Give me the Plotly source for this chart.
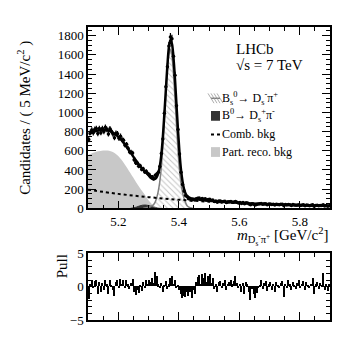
import numpy as np
import plotly.graph_objects as go

# 5 MeV bins from 5.10 to 5.90 GeV
mass = np.round(5.1025 + 0.005 * np.arange(160), 4)

data_counts = [
    717, 791, 816, 788, 825, 833, 780, 833, 789, 831,
    801, 846, 823, 776, 830, 803, 774, 736, 783, 778,
    730, 752, 716, 709, 659, 667, 627, 587, 586, 576,
    506, 475, 471, 440, 444, 406, 414, 380, 387, 363,
    353, 329, 329, 311, 345, 357, 376, 436, 572, 723,
    991, 1268, 1475, 1692, 1785, 1767, 1586, 1387, 1070, 821,
    566, 376, 250, 180, 135, 120, 101, 100, 86, 94,
    86, 101, 106, 107, 93, 104, 96, 101, 88, 93,
    96, 82, 86, 72, 77, 64, 76, 77, 66, 72,
    74, 61, 68, 70, 71, 64, 67, 72, 63, 56,
    61, 51, 60, 47, 58, 55, 46, 37, 47, 42,
    36, 41, 45, 47, 52, 42, 47, 49, 38, 45,
    46, 39, 44, 35, 44, 41, 37, 42, 43, 28,
    39, 36, 41, 38, 31, 39, 35, 32, 36, 38,
    31, 34, 37, 28, 34, 32, 28, 32, 37, 23,
    31, 33, 26, 31, 29, 37, 24, 29, 22, 28,
]

fit_counts = [
    770, 780, 788, 796, 802, 807, 811, 813, 815, 817,
    818, 817, 814, 810, 804, 797, 788, 778, 766, 753,
    738, 722, 705, 685, 664, 642, 620, 597, 574, 550,
    527, 504, 482, 461, 440, 420, 402, 386, 370, 355,
    335, 318, 306, 302, 308, 328, 370, 440, 560, 745,
    985, 1240, 1490, 1680, 1755, 1715, 1570, 1350, 1080, 815,
    580, 400, 280, 200, 155, 130, 117, 108, 103, 99,
    97, 95, 93, 91, 89, 87, 85, 83, 82, 80,
    79, 78, 76, 75, 74, 72, 71, 70, 69, 68,
    67, 66, 65, 64, 63, 62, 61, 60, 59, 58,
    58, 57, 56, 55, 54, 53, 52, 51, 50, 50,
    49, 48, 47, 46, 46, 45, 44, 44, 43, 43,
    42, 42, 41, 41, 40, 40, 39, 39, 38, 38,
    37, 37, 36, 36, 35, 35, 34, 34, 33, 33,
    33, 32, 32, 31, 31, 31, 30, 30, 30, 29,
    29, 29, 28, 28, 28, 27, 27, 27, 26, 26,
]

pulls = [
    -1.9, 0.4, 1.0, -0.3, 0.8, 0.9, -1.1, 0.7, -0.9, 0.5,
    -0.6, 1.0, 0.3, -1.2, 0.9, 0.2, -0.5, -1.5, 0.6, 0.9,
    -0.3, 1.1, 0.4, 0.9, -0.2, 1.0, 0.3, -0.4, 0.5, 1.1,
    -0.9, -1.3, -0.5, -1.0, 0.2, -0.7, 0.6, -0.3, 0.9, 0.4,
    1.0, 0.6, 1.3, 0.5, 2.1, 1.6, 0.3, -0.2, 0.5, -0.8,
    0.2, 0.8, -0.4, 0.3, 1.2, 1.5, 0.4, 1.0, -0.3, 0.2,
    -0.6, -1.2, -1.8, -1.4, -1.6, -0.9, -1.5, -0.8, -1.7, -0.5,
    -1.1, 0.6, 1.4, 1.7, 0.4, 1.8, 1.2, 2.0, 0.7, 1.5,
    1.9, 0.5, 1.2, -0.4, 0.3, -0.9, 0.6, 0.8, -0.3, 0.5,
    0.9, -0.6, 0.4, 0.7, 1.0, 0.3, 0.8, 1.6, 0.5, -0.2,
    0.4, -0.8, 0.5, -1.1, 0.6, 0.3, -0.9, -2.0, -0.4, -1.2,
    -1.8, -1.0, -0.3, 0.2, 0.9, -0.4, 0.5, 0.8, -0.7, 0.3,
    0.6, -0.5, 0.4, -0.9, 0.7, 0.2, -0.3, 0.5, 0.8, -1.6,
    0.4, -0.2, 0.9, 0.3, -0.6, 0.7, 0.2, -0.4, 0.5, 0.9,
    -0.3, 0.4, 0.8, -0.5, 0.6, 0.1, -0.3, 0.4, 1.2, -1.1,
    0.3, 0.7, -0.4, 0.5, 0.2, 2.0, -0.6, 0.4, -0.7, 0.3,
]

# Bs -> Ds pi signal shape
sig_mass = [
    5.282, 5.287, 5.292, 5.297, 5.302, 5.307, 5.312, 5.317, 5.322, 5.327,
    5.332, 5.337, 5.342, 5.347, 5.352, 5.357, 5.362, 5.367, 5.372, 5.377,
    5.382, 5.387, 5.392, 5.397, 5.402, 5.407, 5.412, 5.417, 5.422, 5.427,
    5.432, 5.437, 5.442, 5.447,
]
sig_val = [
    0, 3, 6, 10, 14, 20, 28, 40, 65, 110,
    175, 270, 414, 633, 895, 1173, 1422, 1597, 1660, 1597,
    1422, 1173, 895, 633, 414, 270, 175, 110, 65, 30,
    15, 8, 3, 0,
]

# B0 -> Ds pi
b0_mass = [5.24, 5.25, 5.26, 5.27, 5.28, 5.29, 5.30, 5.31, 5.32, 5.33, 5.34]
b0_val = [0, 5, 13, 25, 33, 35, 30, 19, 9, 3, 0]

# combinatorial background
comb_mass = [5.1, 5.2, 5.3, 5.4, 5.5, 5.6, 5.7, 5.8, 5.9]
comb_val = [195, 151, 117, 90, 70, 54, 42, 32, 25]

# partially reconstructed background
pr_mass = [5.10, 5.11, 5.12, 5.13, 5.14, 5.15, 5.16, 5.17, 5.18, 5.19,
           5.20, 5.21, 5.22, 5.23, 5.24, 5.25, 5.26, 5.27, 5.28, 5.29,
           5.30, 5.31, 5.32, 5.33, 5.34]
pr_val = [555, 570, 582, 592, 598, 602, 603, 600, 590, 572,
          545, 508, 465, 418, 368, 318, 268, 220, 175, 132,
          85, 48, 22, 6, 0]

FONT = "Liberation Serif"

fig = go.Figure()

fig.add_trace(go.Scatter(x=pr_mass, y=pr_val, mode="lines", fill="tozeroy",
                         line=dict(color="#c8c8c8", width=0, shape="spline"),
                         fillcolor="#c8c8c8"))
fig.add_trace(go.Scatter(x=b0_mass, y=b0_val, mode="lines", fill="tozeroy",
                         line=dict(color="#333333", width=1, shape="spline"),
                         fillcolor="#333333"))
fig.add_trace(go.Scatter(x=sig_mass, y=sig_val, mode="lines", fill="tozeroy",
                         line=dict(color="#808080", width=1.5, shape="spline"),
                         fillcolor="rgba(255,255,255,0)",
                         fillpattern=dict(shape="\\", fgcolor="#8a8a8a",
                                          bgcolor="rgba(255,255,255,0)",
                                          size=4, solidity=0.25)))
fig.add_trace(go.Scatter(x=comb_mass, y=comb_val, mode="lines",
                         line=dict(color="black", width=2, dash="dot", shape="spline")))
fig.add_trace(go.Scatter(x=mass, y=fit_counts, mode="lines",
                         line=dict(color="black", width=2.5, shape="spline")))
fig.add_trace(go.Scatter(x=mass, y=data_counts, mode="markers",
                         marker=dict(color="black", size=3.5),
                         error_y=dict(type="data", array=np.sqrt(data_counts),
                                      thickness=1.2, width=0, color="black"),
                         error_x=dict(type="constant", value=0.0025,
                                      thickness=1.2, width=0, color="black")))

fig.add_trace(go.Bar(x=mass, y=pulls, width=0.004, marker_color="black",
                     marker_line_width=0, xaxis="x2", yaxis="y2"))

axis_common = dict(ticks="inside", mirror="allticks", showline=True,
                   linecolor="black", linewidth=1.5, tickcolor="black",
                   tickwidth=1, showgrid=False, zeroline=False,
                   tickfont=dict(family=FONT, size=13, color="black"))

# page body has an 8 px margin, so the figure is shifted back by 8 px
fig.update_layout(
    width=341, height=332,
    margin=dict(l=80, r=19, t=19, b=13),
    paper_bgcolor="white", plot_bgcolor="white",
    showlegend=False,
    bargap=0,
    font=dict(family=FONT, color="black"),
    xaxis=dict(domain=[0, 1], range=[5.1, 5.9], anchor="y",
               tick0=5.2, dtick=0.2, ticklen=8,
               minor=dict(dtick=0.05, ticks="inside", ticklen=4, tickcolor="black"),
               **axis_common),
    yaxis=dict(domain=[0.381, 1], range=[0, 1890], dtick=200, ticklen=8,
               minor=dict(dtick=50, ticks="inside", ticklen=4, tickcolor="black"),
               **axis_common),
    xaxis2=dict(domain=[0, 1], range=[5.1, 5.9], anchor="y2",
                tick0=5.2, dtick=0.2, ticklen=8, showticklabels=False,
                minor=dict(dtick=0.05, ticks="inside", ticklen=4, tickcolor="black"),
                **axis_common),
    yaxis2=dict(domain=[0, 0.227], range=[-5, 5], anchor="x2",
                tickvals=[-5, 0, 5], ticktext=["\u22125", "0", "5"], ticklen=8,
                minor=dict(dtick=1, ticks="inside", ticklen=4, tickcolor="black"),
                **axis_common),
)


def px_x(p):
    return (p - 88) / 242


def px_y(p):
    return (327 - p) / 300


annotations = [
    dict(x=px_x(25), y=px_y(120), text="Candidates / ( 5 MeV/c<sup>2</sup> )",
         textangle=-90, font=dict(size=15)),
    dict(x=1.0, y=px_y(241), xanchor="right",
         text="<i>m</i><sub>D<sub>s</sub><sup>-</sup>π<sup>+</sup></sub> [GeV/c<sup>2</sup>]",
         font=dict(size=15)),
    dict(x=px_x(62), y=px_y(272), text="Pull", textangle=-90, font=dict(size=15)),
    dict(x=px_x(234), y=px_y(50), xanchor="left", text="LHCb", font=dict(size=15)),
    dict(x=px_x(234), y=px_y(66), xanchor="left", text="√s = 7 TeV", font=dict(size=15)),
    dict(x=px_x(220), y=px_y(100), xanchor="left",
         text="B<sub>s</sub><sup>0</sup>→ D<sub>s</sub><sup>-</sup>π<sup>+</sup>", font=dict(size=12)),
    dict(x=px_x(220), y=px_y(118), xanchor="left",
         text="B<sup>0</sup>→ D<sub>s</sub><sup>+</sup>π<sup>-</sup>", font=dict(size=12)),
    dict(x=px_x(220), y=px_y(137), xanchor="left", text="Comb. bkg", font=dict(size=12)),
    dict(x=px_x(220), y=px_y(155), xanchor="left", text="Part. reco. bkg", font=dict(size=12)),
]
for a in annotations:
    a.update(xref="paper", yref="paper", showarrow=False)
    a.setdefault("xanchor", "center")
    a.setdefault("yanchor", "middle")
fig.update_layout(annotations=annotations)

# hand-drawn legend symbols
shapes = [
    dict(type="rect", x0=px_x(211), x1=px_x(220), y0=px_y(123), y1=px_y(113),
         fillcolor="#333333", line_width=0),
    dict(type="line", x0=px_x(211), x1=px_x(220), y0=px_y(137), y1=px_y(137),
         line=dict(color="black", width=2, dash="dot")),
    dict(type="rect", x0=px_x(211), x1=px_x(220), y0=px_y(160), y1=px_y(150),
         fillcolor="#c8c8c8", line_width=0),
    dict(type="line", x0=px_x(211), x1=px_x(220), y0=px_y(100), y1=px_y(100),
         line=dict(color="#808080", width=1.5)),
]
for k in range(4):
    shapes.append(dict(type="line", x0=px_x(211 + 3 * k - 3), x1=px_x(211 + 3 * k + 3),
                       y0=px_y(95), y1=px_y(105), line=dict(color="#999999", width=0.8)))
for s in shapes:
    s.update(xref="paper", yref="paper")
fig.update_layout(shapes=shapes)

fig.write_html("out.html")
